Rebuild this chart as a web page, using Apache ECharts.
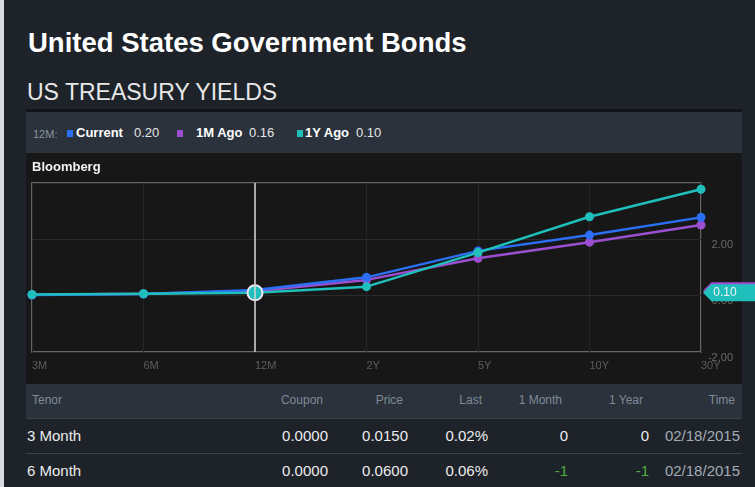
<!DOCTYPE html>
<html>
<head>
<meta charset="utf-8">
<script src="https://cdn.jsdelivr.net/npm/echarts@6/dist/echarts.min.js"></script>
<style>
  html, body { margin: 0; padding: 0; }
  body { width: 755px; height: 487px; background: #1e232a; position: relative; overflow: hidden;
         font-family: 'Liberation Sans', Arial, sans-serif; }
  .abs { position: absolute; white-space: nowrap; }
  .edge { left: 0; top: 0; width: 4px; height: 487px; background: #d9dcdf; }
  .h1 { left: 28px; top: 27px; font-size: 27.5px; font-weight: bold; color: #fff; line-height: 32px; }
  .h2 { left: 27px; top: 78px; font-size: 23px; color: #e8e8e8; line-height: 28px; }
  .sep { left: 26px; top: 109px; width: 716px; height: 3px; background: #101317; }
  .legbar { left: 26px; top: 112px; width: 716px; height: 41px; background: #2b323c; }
  .leg { top: 125px; line-height: 16px; font-size: 13px; color: #e6e6e6; }
  .leg b { color: #fff; }
  .sq { top: 130px; width: 6px; height: 7px; }
  .plotbg { left: 26px; top: 153px; width: 716px; height: 231px; background: #171717; }
  #main { position: absolute; left: 26px; top: 152px; width: 729px; height: 232px; }
  .thead { left: 26px; top: 384px; width: 716px; height: 34px; background: #2b323c; }
  .line { left: 26px; width: 716px; height: 1px; background: #3b434d; }
  .th { top: 393px; font-size: 12px; color: #7f8a96; line-height: 14px; }
  .td { font-size: 15px; color: #ececec; line-height: 18px; }
  .r { text-align: right; }
</style>
</head>
<body>
<div class="abs edge"></div>
<div class="abs h1">United States Government Bonds</div>
<div class="abs h2">US TREASURY YIELDS</div>
<div class="abs sep"></div>
<div class="abs legbar"></div>
<div id="legend"></div>
<div class="abs plotbg"></div>
<div id="main"></div>
<div class="abs thead"></div>
<div class="abs line" style="top:418px"></div>
<div class="abs line" style="top:453px"></div>
<div id="table"></div>
<script>
// tenors on the curve
var tenors = ['3M', '6M', '12M', '2Y', '5Y', '10Y', '30Y'];
// yields (%)
var current  = [0.02, 0.06, 0.20, 0.65, 1.59, 2.15, 2.78];
var monthAgo = [0.03, 0.07, 0.16, 0.56, 1.33, 1.90, 2.51];
var yearAgo  = [0.04, 0.07, 0.10, 0.32, 1.53, 2.80, 3.78];

var seriesNames = ['Current', '1M Ago', '1Y Ago'];
var seriesColors = ['#2b6ff5', '#9b4fd0', '#1fbfbc'];
var pickedTenor = '12M';
var pickedValues = ['0.20', '0.16', '0.10'];

// table
var tableHead = ['Tenor', 'Coupon', 'Price', 'Last', '1 Month', '1 Year', 'Time'];
var tableRows = [
  ['3 Month', '0.0000', '0.0150', '0.02%', '0', '0', '02/18/2015'],
  ['6 Month', '0.0000', '0.0600', '0.06%', '-1', '-1', '02/18/2015']
];

// legend strip
var leg = document.getElementById('legend');
var legHtml = '<div class="abs leg" style="left:33px;font-size:11px;color:#8a949f;top:126px">' + pickedTenor + ':</div>';
var sqX = [67, 177, 297];
var nameX = [76, 196, 305];
var valX = [134, 249, 356];
for (var i = 0; i < 3; i++) {
  legHtml += '<div class="abs sq" style="left:' + sqX[i] + 'px;background:' + seriesColors[i] + '"></div>';
  legHtml += '<div class="abs leg" style="left:' + nameX[i] + 'px"><b>' + seriesNames[i] + '</b></div>';
  legHtml += '<div class="abs leg" style="left:' + valX[i] + 'px">' + pickedValues[i] + '</div>';
}
leg.innerHTML = legHtml;

// table text
var colRight = [null, 323, 403, 482, 562, 643, 735];
var cellRight = [null, 328, 408, 488, 568, 649, 740];
var tb = document.getElementById('table');
var th = '<div class="abs th" style="left:32px">' + tableHead[0] + '</div>';
for (var c = 1; c < tableHead.length; c++) {
  th += '<div class="abs th r" style="right:' + (755 - colRight[c]) + 'px">' + tableHead[c] + '</div>';
}
var rowY = [427, 462];
tableRows.forEach(function (row, ri) {
  th += '<div class="abs td" style="left:27px;top:' + rowY[ri] + 'px">' + row[0] + '</div>';
  for (var c = 1; c < row.length; c++) {
    var col = '#ececec';
    if (c === 6) col = '#a3abb3';
    if ((c === 4 || c === 5) && row[c].charAt(0) === '-') col = '#4fae3f';
    th += '<div class="abs td r" style="right:' + (755 - cellRight[c]) + 'px;top:' + rowY[ri] + 'px;color:' + col + '">' + row[c] + '</div>';
  }
});
tb.innerHTML = th;

var myChart = echarts.init(document.getElementById('main'));

var tagPath = 'path://M0,9 L9,0 L60,0 L60,18 L9,18 Z';

var option = {
  animation: false,
  textStyle: { fontFamily: 'Liberation Sans, Arial, sans-serif' },
  title: {
    text: 'Bloomberg',
    left: 6, top: 9, padding: 0,
    textStyle: { color: '#f2f2f2', fontSize: 13, fontWeight: 'bold' }
  },
  grid: {
    left: 6, top: 31, right: 54, bottom: 32,
    show: true, borderColor: '#808080', borderWidth: 1.5
  },
  xAxis: {
    type: 'category',
    data: tenors,
    boundaryGap: false,
    axisLine: { show: false },
    axisTick: { show: false },
    axisLabel: { color: '#5c5c5c', fontSize: 11, align: 'left', margin: 8 },
    splitLine: { show: true, lineStyle: { color: '#262626' } }
  },
  yAxis: {
    type: 'value',
    position: 'right',
    min: -2, max: 4, interval: 2,
    axisLine: { show: false },
    axisTick: { show: false },
    axisLabel: {
      color: '#6a6a6a', fontSize: 11, align: 'right', margin: 32,
      verticalAlign: 'top', lineHeight: 11, showMaxLabel: false,
      formatter: function (v) { return v.toFixed(2); }
    },
    splitLine: { show: true, lineStyle: { color: '#2a2a2a' } }
  },
  series: [
    {
      name: seriesNames[1], type: 'line', data: monthAgo,
      symbol: 'circle', symbolSize: 9, z: 2,
      lineStyle: { color: seriesColors[1], width: 2.5 },
      itemStyle: { color: seriesColors[1] },
      markPoint: {
        silent: true, symbol: tagPath, symbolSize: [56, 17], symbolKeepAspect: false,
        symbolOffset: [30, -2],
        itemStyle: { color: seriesColors[1] },
        label: { show: false },
        data: [{ coord: [tenors[6], yearAgo[2]] }]
      }
    },
    {
      name: seriesNames[0], type: 'line', data: current,
      symbol: 'circle', symbolSize: 9, z: 3,
      lineStyle: { color: seriesColors[0], width: 2.5 },
      itemStyle: { color: seriesColors[0] }
    },
    {
      name: seriesNames[2], type: 'line',
      data: yearAgo.map(function (v, i) {
        if (tenors[i] === pickedTenor) {
          return { value: v, symbolSize: 15, itemStyle: { borderColor: '#ece8f4', borderWidth: 2 } };
        }
        return v;
      }),
      symbol: 'circle', symbolSize: 9, z: 4,
      lineStyle: { color: seriesColors[2], width: 2.5 },
      itemStyle: { color: seriesColors[2] },
      markLine: {
        silent: true, symbol: 'none',
        label: { show: false },
        lineStyle: { color: '#d8d8d8', width: 1.5, type: 'solid' },
        data: [{ xAxis: pickedTenor }]
      },
      markPoint: {
        silent: true, symbol: tagPath, symbolSize: [56, 17], symbolKeepAspect: false,
        symbolOffset: [30, 0],
        itemStyle: { color: seriesColors[2] },
        label: { show: true, formatter: pickedValues[2], color: '#f4f4f4', fontSize: 12, offset: [-6, 0] },
        data: [{ coord: [tenors[6], yearAgo[2]] }]
      }
    }
  ]
};

myChart.setOption(option);
</script>
</body>
</html>
